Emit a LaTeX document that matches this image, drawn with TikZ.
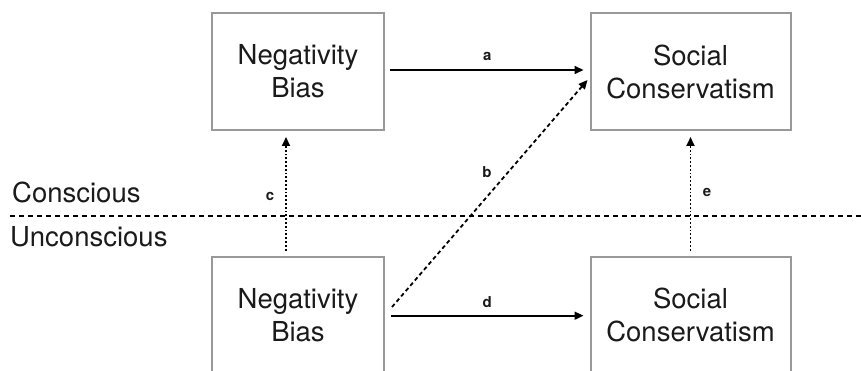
\documentclass[tikz,border=0pt]{standalone}
\usepackage{fontspec}
\setmainfont{TeX Gyre Heros}
\usetikzlibrary{calc,arrows.meta}
\definecolor{boxgray}{HTML}{999999}
\definecolor{txt}{HTML}{1A1A1A}
\begin{document}
\begin{tikzpicture}[x=1pt,y=-1pt,
  varbox/.style={draw=boxgray,line width=2pt,align=center,text=txt,
    font=\fontsize{27.5}{33}\selectfont,inner sep=0pt},
  arr/.style={line width=1.8pt,-{Triangle[length=9pt,width=8pt]}},
  lbl/.style={font=\fontsize{15}{17}\selectfont\bfseries,text=txt,inner sep=0pt},
  side/.style={font=\fontsize{27.5}{33}\selectfont,text=txt,anchor=base west,inner sep=0pt}]
\useasboundingbox (0,0) rectangle (861,371);
\begin{scope}
\clip (0,0) rectangle (861,371);
\node[varbox,minimum width=172pt,minimum height=117pt] (nbt) at (298,71.5) {Negativity\\Bias};
\node[varbox,minimum width=200pt,minimum height=117pt] (sct) at (690.5,71.5) {Social\\Conservatism};
\node[varbox,minimum width=172pt,minimum height=117pt] (nbb) at (298,315) {Negativity\\Bias};
\node[varbox,minimum width=200pt,minimum height=117pt] (scb) at (690.5,315) {Social\\Conservatism};
\end{scope}
\coordinate (dl) at (10,216);
\coordinate (dr) at (861,216);
\draw[line width=1.8pt,dash pattern=on 5pt off 4pt] (dl) -- (dr);
\node[side] (cons) at (12,203) {Conscious};
\node[side] (uncons) at (10,247) {Unconscious};
% a
\draw[arr,shorten <=5pt,shorten >=6pt] ($(nbt.east)+(0,-1.5)$) -- ($(sct.west)+(0,-1.5)$)
  node[lbl,midway,above=8pt] (la) {a};
% d
\draw[arr,shorten <=6pt,shorten >=6pt] ($(nbb.east)+(0,0.7)$) -- ($(scb.west)+(0,0.7)$)
  node[lbl,midway,above=7pt] (ld) {d};
% b
\draw[arr,line width=1.8pt,dash pattern=on 4pt off 3pt] ($(nbb.east)+(7,-8)$) -- ($(sct.west)+(-2,8.5)$);
\node[lbl] (lb) at (487,172) {b};
% c
\draw[arr,dotted,line width=1.8pt] ($(nbb.north)+(-12,-5)$) -- ($(nbt.south)+(-12,6)$);
\node[lbl] (lc) at (270,196) {c};
% e
\draw[arr,dotted,line width=1.8pt] ($(scb.north)+(0,-5)$) -- ($(sct.south)+(0,6)$);
\node[lbl] (le) at (707,192) {e};
\end{tikzpicture}
\end{document}
